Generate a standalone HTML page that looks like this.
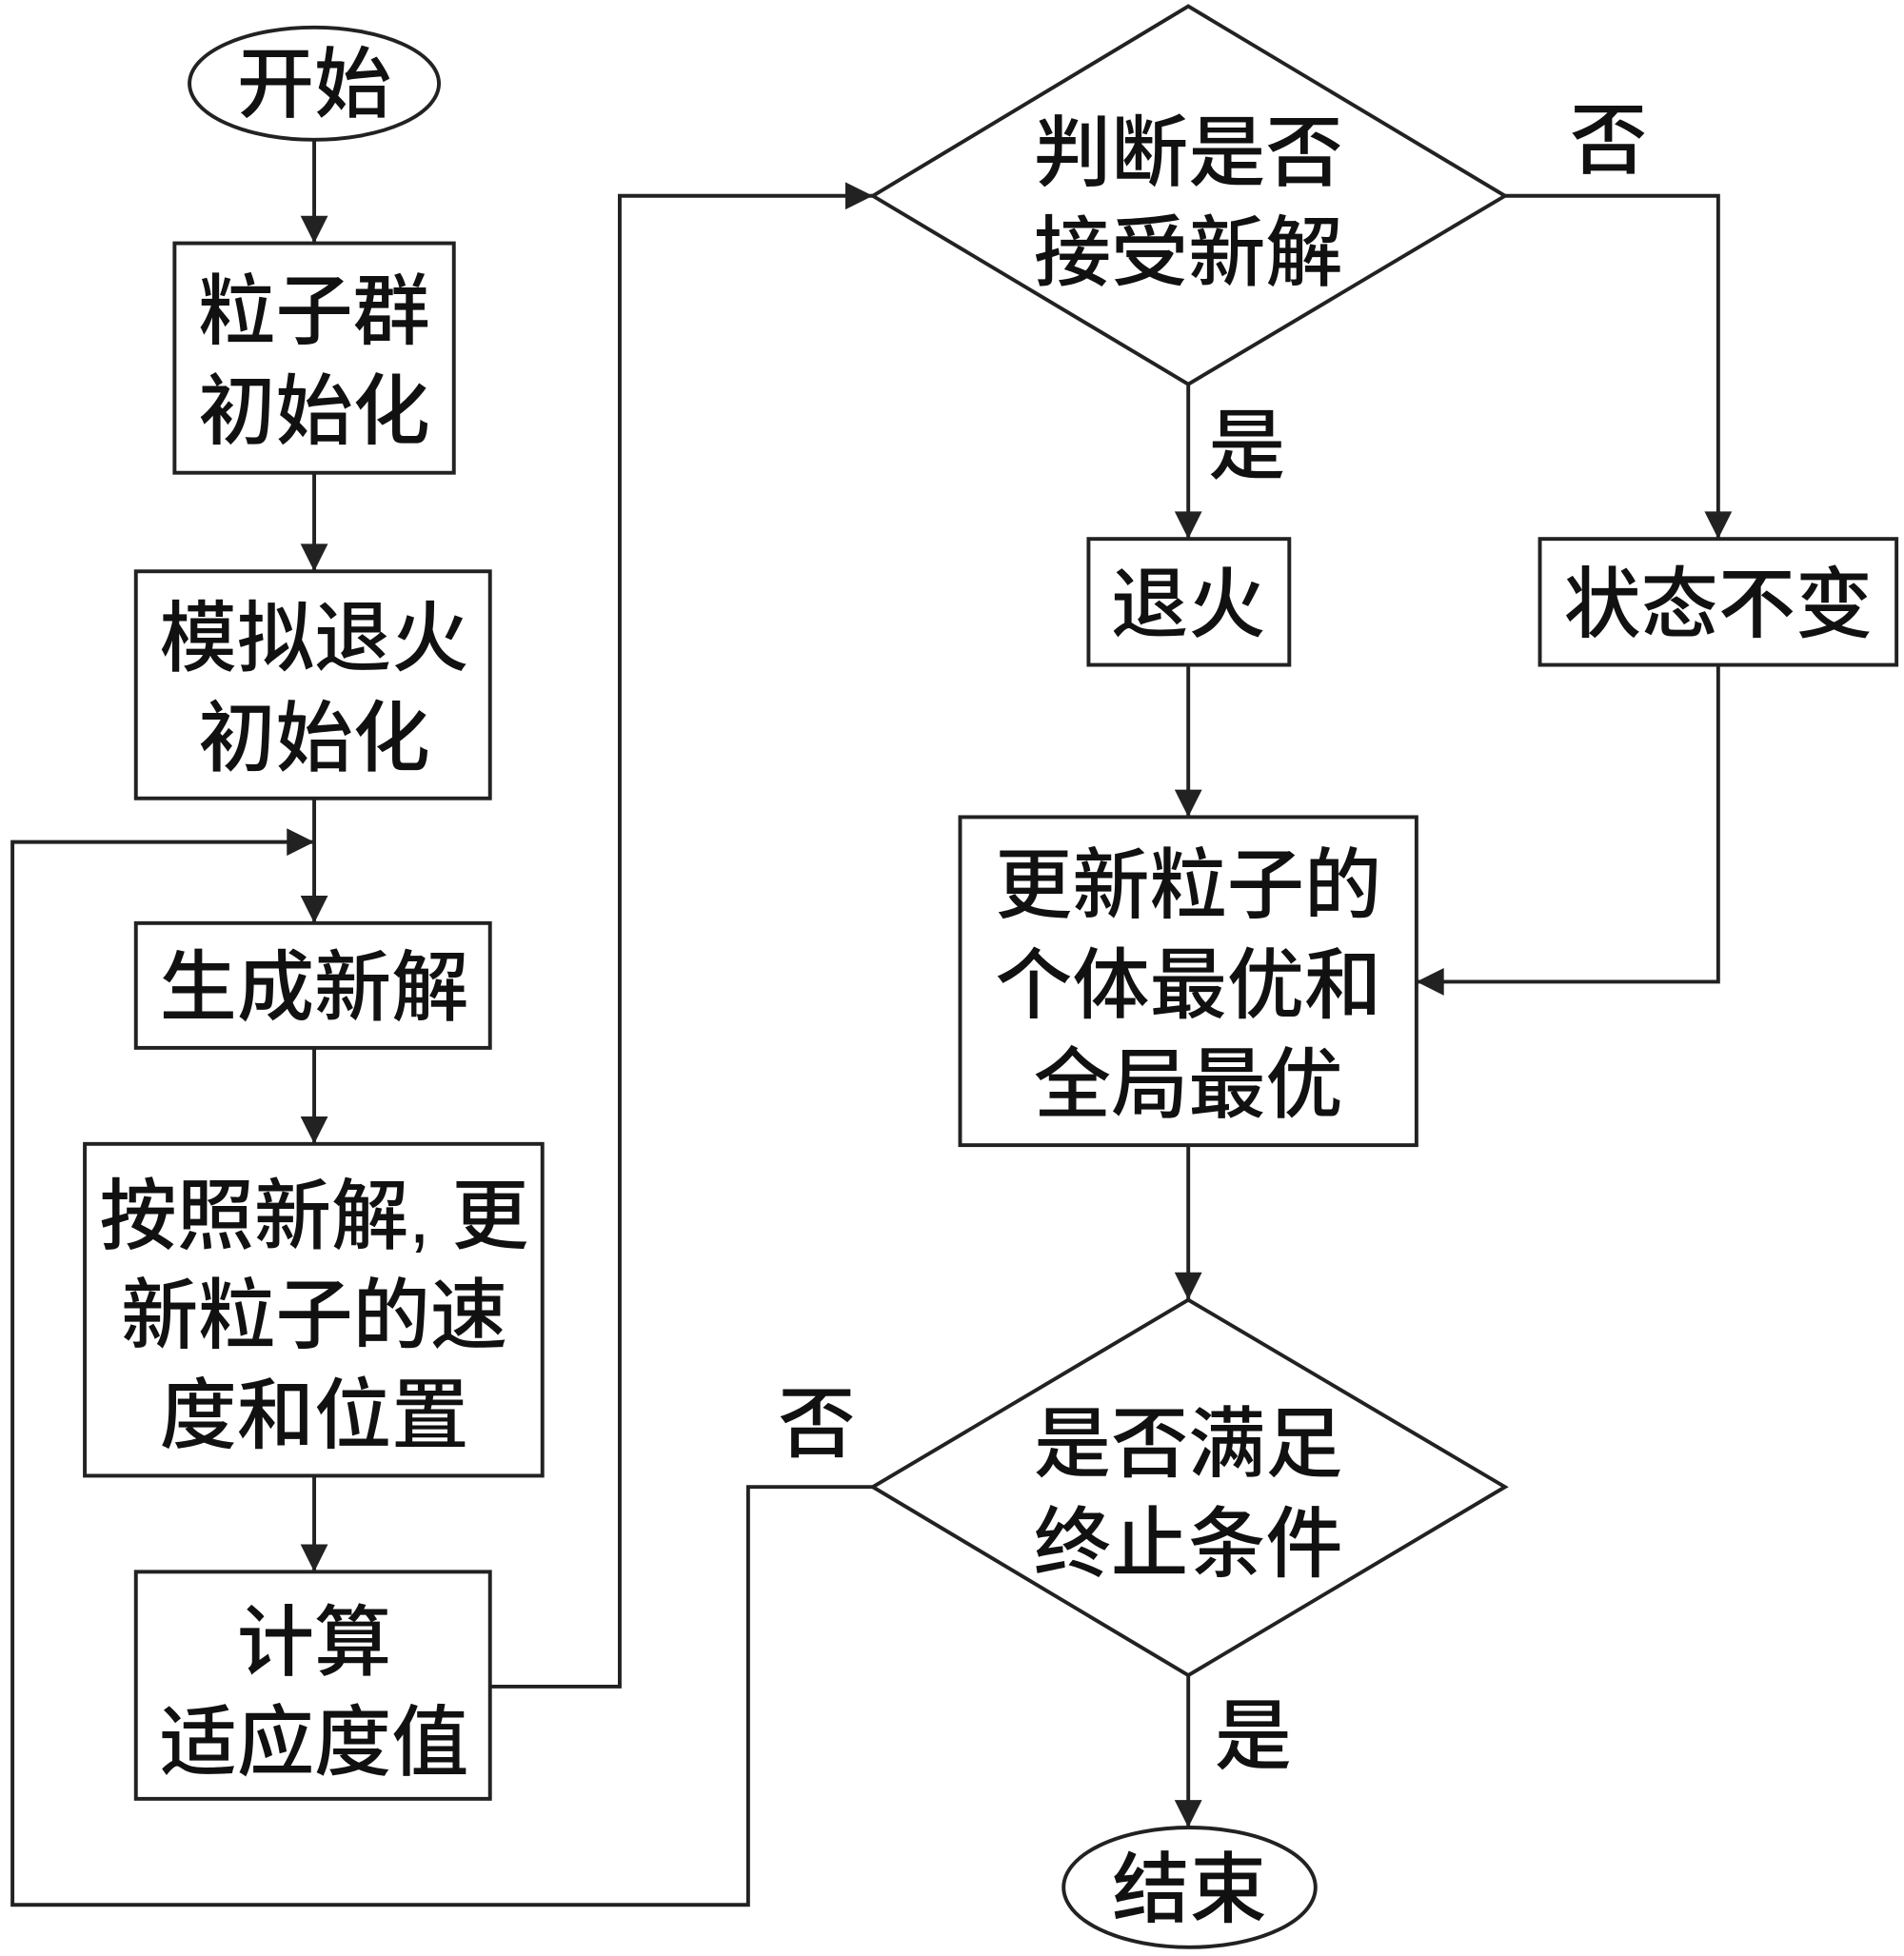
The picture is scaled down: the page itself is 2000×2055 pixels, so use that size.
<!DOCTYPE html>
<html><head><meta charset="utf-8">
<style>
html,body{margin:0;padding:0;background:#fff;}
svg{display:block;}
text{font-family:"Liberation Sans","Noto Sans CJK SC",sans-serif;font-size:62px;font-weight:500;fill:#111;text-anchor:middle;}
</style></head>
<body>
<svg width="2000" height="2055" viewBox="0 0 1527 1568" preserveAspectRatio="none" xmlns="http://www.w3.org/2000/svg">
<defs>
<marker id="b" viewBox="0 0 10 10" refX="10" refY="5" markerWidth="32" markerHeight="22" markerUnits="userSpaceOnUse" orient="auto">
<path d="M0,0 L10,5 L0,10 Z" fill="#222"/>
</marker>
</defs>
<g stroke="#222" stroke-width="3" fill="none">
<ellipse cx="252" cy="67" rx="100" ry="45"/>
<rect x="140" y="195" width="224" height="184"/>
<rect x="109" y="458" width="284" height="182"/>
<rect x="109" y="740" width="284" height="100"/>
<rect x="68" y="917" width="367" height="266"/>
<rect x="109" y="1260" width="284" height="182"/>
<polygon points="700,157 953,5 1207,157 953,308"/>
<rect x="873" y="432" width="161" height="101"/>
<rect x="1235" y="432" width="286" height="101"/>
<rect x="770" y="655" width="366" height="263"/>
<polygon points="700,1192 953,1042 1207,1192 953,1343"/>
<ellipse cx="954" cy="1513" rx="101" ry="48"/>
</g>
<g stroke="#222" stroke-width="3" fill="none">
<line x1="252" y1="112" x2="252" y2="195" marker-end="url(#b)"/>
<line x1="252" y1="379" x2="252" y2="458" marker-end="url(#b)"/>
<line x1="252" y1="640" x2="252" y2="740" marker-end="url(#b)"/>
<line x1="252" y1="840" x2="252" y2="917" marker-end="url(#b)"/>
<line x1="252" y1="1183" x2="252" y2="1260" marker-end="url(#b)"/>
<polyline points="393,1352 497,1352 497,157 700,157" marker-end="url(#b)"/>
<polyline points="1207,157 1378,157 1378,432" marker-end="url(#b)"/>
<line x1="953" y1="308" x2="953" y2="432" marker-end="url(#b)"/>
<line x1="953" y1="533" x2="953" y2="655" marker-end="url(#b)"/>
<polyline points="1378,533 1378,787 1136,787" marker-end="url(#b)"/>
<line x1="953" y1="918" x2="953" y2="1042" marker-end="url(#b)"/>
<polyline points="700,1192 600,1192 600,1527 10,1527 10,675 252,675" marker-end="url(#b)"/>
<line x1="953" y1="1343" x2="953" y2="1465" marker-end="url(#b)"/>
</g>
<g>
<text x="252" y="89">开始</text>
<text x="252" y="271">粒子群</text>
<text x="252" y="351">初始化</text>
<text x="252" y="533">模拟退火</text>
<text x="252" y="613">初始化</text>
<text x="252" y="813">生成新解</text>
<text x="252" y="996">按照新解, 更</text>
<text x="252" y="1076">新粒子的速</text>
<text x="252" y="1156">度和位置</text>
<text x="252" y="1338">计算</text>
<text x="252" y="1418">适应度值</text>
<text x="953" y="144">判断是否</text>
<text x="953" y="224">接受新解</text>
<text x="1290" y="134">否</text>
<text x="1000" y="379">是</text>
<text x="953" y="506">退火</text>
<text x="1378" y="506">状态不变</text>
<text x="953" y="731">更新粒子的</text>
<text x="953" y="811">个体最优和</text>
<text x="953" y="891">全局最优</text>
<text x="953" y="1179">是否满足</text>
<text x="953" y="1259">终止条件</text>
<text x="655" y="1163">否</text>
<text x="1005" y="1413">是</text>
<text x="954" y="1536">结束</text>
</g>
</svg>
</body></html>
